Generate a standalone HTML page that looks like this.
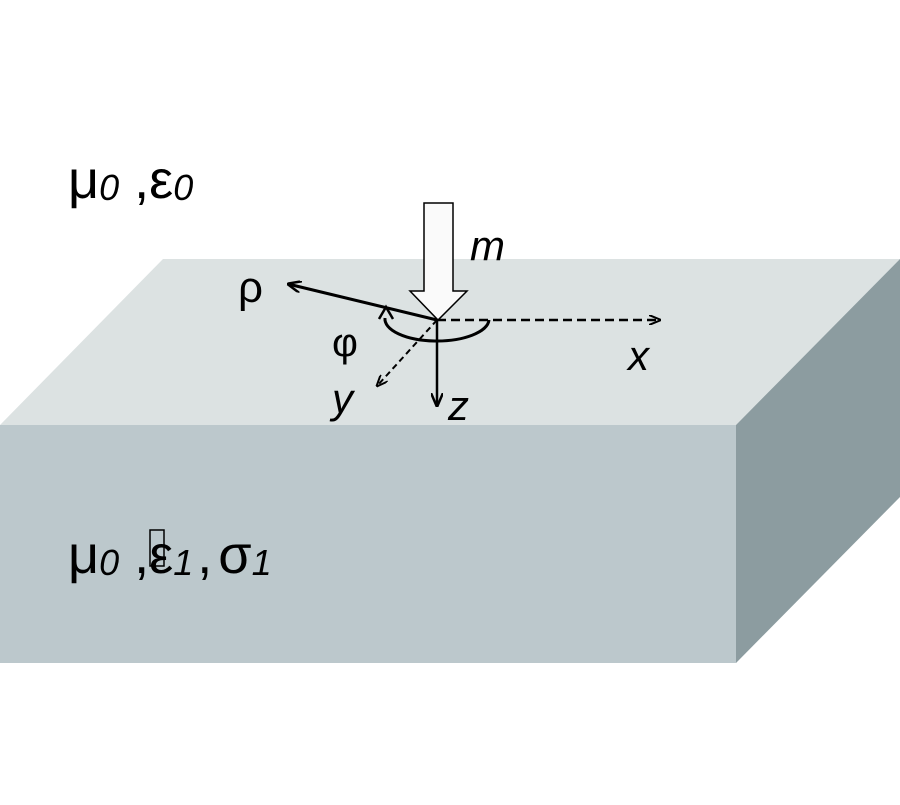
<!DOCTYPE html>
<html><head><style>
body{margin:0;background:#fff}
svg text{font-family:"Liberation Sans","DejaVu Sans",sans-serif}
</style></head><body>
<svg width="900" height="800" viewBox="0 0 900 800" xmlns="http://www.w3.org/2000/svg">
<defs>
<marker id="ah" markerWidth="14" markerHeight="12" refX="13" refY="6" orient="auto" markerUnits="userSpaceOnUse"><path d="M0,0 L14,6 L0,12" fill="none" stroke="#000" stroke-width="2.5"/></marker>
<marker id="ahs" markerWidth="12" markerHeight="10" refX="11" refY="5" orient="auto" markerUnits="userSpaceOnUse"><path d="M0,0 L12,5 L0,10" fill="none" stroke="#000" stroke-width="2"/></marker>
</defs>
<polygon points="0,425 163,259 900,259 736,425" fill="#dce2e2"/>
<rect x="0" y="425" width="736" height="238" fill="#bcc8cc"/>
<polygon points="736,425 900,259 900,497 736,663" fill="#8c9ca0"/>
<line x1="437" y1="320" x2="660" y2="320" stroke="#000" stroke-width="2.5" stroke-dasharray="9,5" marker-end="url(#ahs)"/>
<line x1="437" y1="320" x2="377" y2="386" stroke="#000" stroke-width="2" stroke-dasharray="6,4" marker-end="url(#ahs)"/>
<line x1="437" y1="320" x2="437" y2="406" stroke="#000" stroke-width="2.5" marker-end="url(#ah)"/>
<line x1="437" y1="320" x2="288" y2="284" stroke="#000" stroke-width="3" marker-end="url(#ah)"/>
<path d="M489,320 A52,22 0 0 1 385,318" fill="none" stroke="#000" stroke-width="3"/>
<path d="M379,319 L386,307 L393,319" fill="none" stroke="#000" stroke-width="2.5"/>
<polygon points="424,203 453,203 453,291 467,291 438,320 410,291 424,291" fill="#fafafa" stroke="#000" stroke-width="1.5"/>
<g font-style="italic" font-size="42">
<text x="470" y="260">m</text>
<text x="628" y="370">x</text>
<text x="448" y="420">z</text>
<text x="332" y="413">y</text>
</g>
<text x="238" y="302" font-size="44">ρ</text>
<text x="332" y="356" font-size="40">φ</text>
<text x="68" y="198" font-size="54">μ<tspan font-size="36" font-style="italic" dy="2">0</tspan><tspan dy="-2"> ,ε</tspan><tspan font-size="36" font-style="italic" dy="2">0</tspan></text>
<text x="68" y="573" font-size="54">μ<tspan font-size="36" font-style="italic" dy="2">0</tspan><tspan dy="-2"> ,ε</tspan><tspan font-size="36" font-style="italic" dy="2">1</tspan><tspan dy="-2" dx="4">,</tspan><tspan dx="6">σ</tspan><tspan font-size="36" font-style="italic" dy="2">1</tspan></text>
<rect x="150" y="530" width="14" height="36" fill="none" stroke="#000" stroke-width="1.5"/>
</svg>
</body></html>
